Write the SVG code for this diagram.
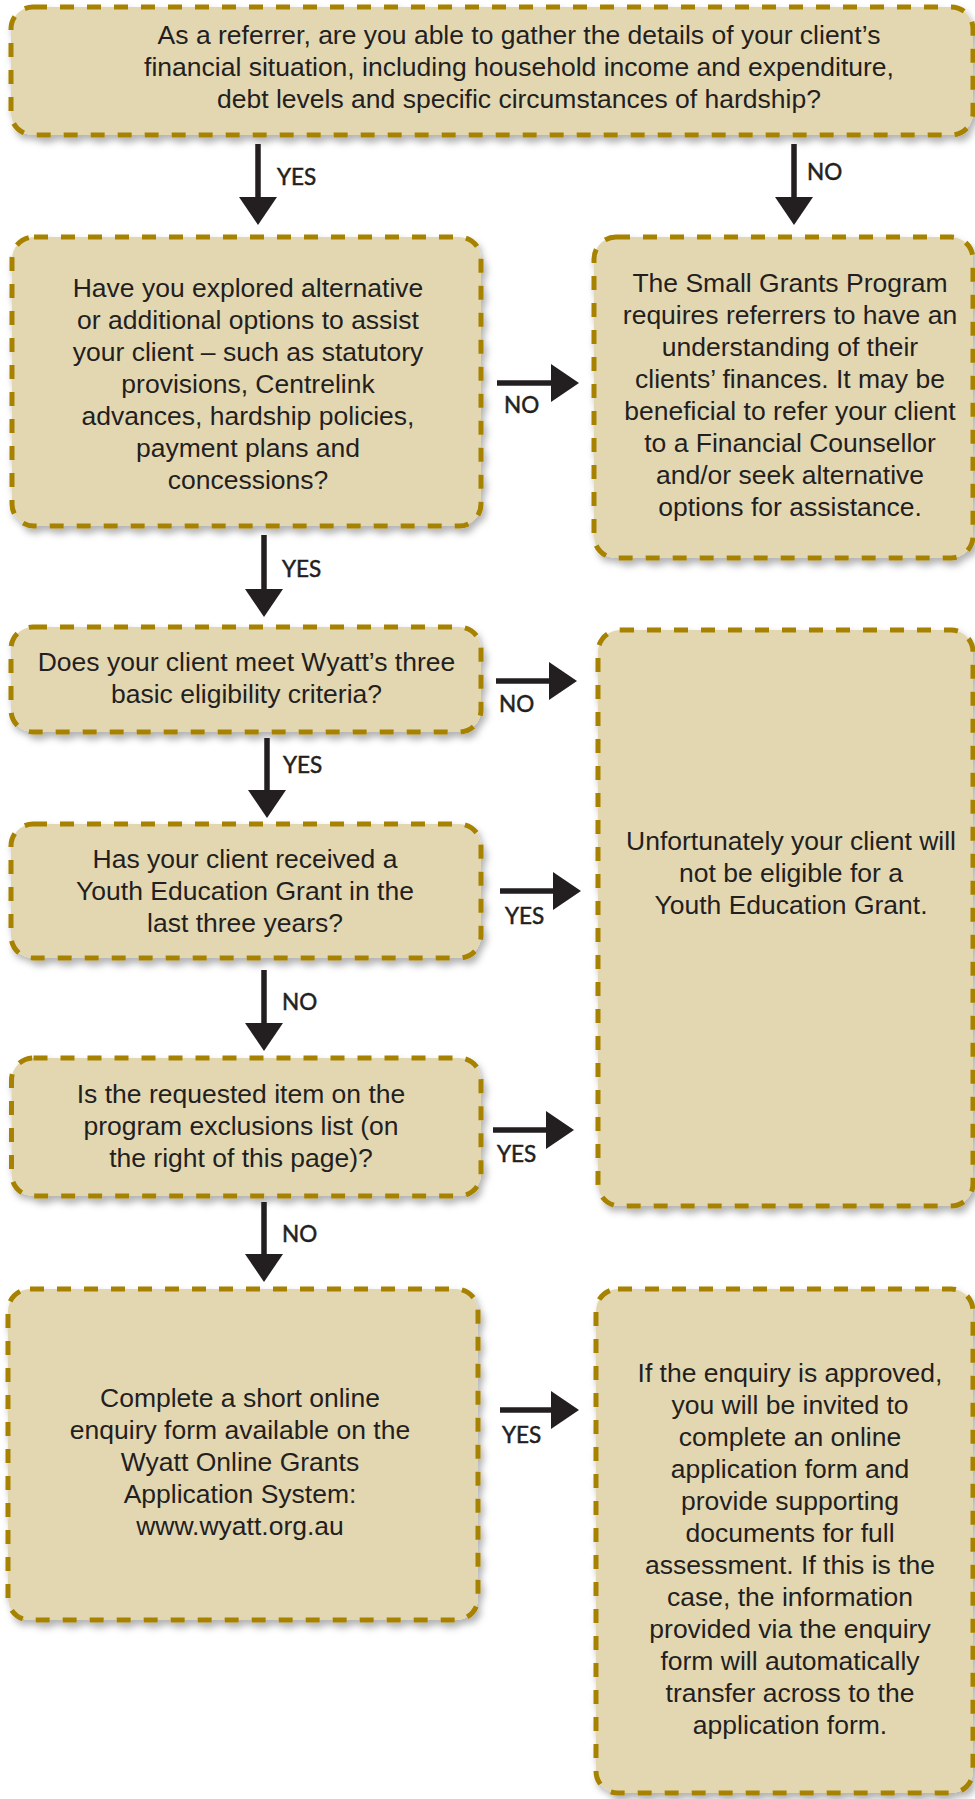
<svg xmlns="http://www.w3.org/2000/svg" width="975" height="1799" viewBox="0 0 975 1799">
<style>
.box{fill:#e3d7b2;stroke:#a68200;stroke-width:5;stroke-dasharray:14 13;filter:url(#sh)}
.t{font-family:"Liberation Sans",Arial,sans-serif;font-size:26.5px;fill:#231f20;text-anchor:middle}
.lbl{font-family:Lato,"DejaVu Sans",sans-serif;font-size:22.5px;fill:#231f20;stroke:#231f20;stroke-width:0.5}
.con{stroke:#231f20;stroke-width:5.5;fill:none;marker-end:url(#ah)}
</style>
<defs>
<filter id="sh" x="-10%" y="-10%" width="120%" height="125%">
<feDropShadow dx="3" dy="5" stdDeviation="3.5" flood-color="#000" flood-opacity="0.3"/>
</filter>
<marker id="ah" markerUnits="userSpaceOnUse" markerWidth="28" markerHeight="38" refX="0" refY="19" orient="auto">
<path d="M0,0 L28,19 L0,38 Z" fill="#231f20"/>
</marker>
</defs>
<rect width="975" height="1799" fill="#ffffff"/>

<g id="q1">
<rect class="box" x="11" y="7" width="962" height="128" rx="22"/>
<text class="t" x="519" y="44">As a referrer, are you able to gather the details of your client’s</text>
<text class="t" x="519" y="76">financial situation, including household income and expenditure,</text>
<text class="t" x="519" y="108">debt levels and specific circumstances of hardship?</text>
</g>

<g id="q2">
<rect class="box" x="12" y="237" width="469" height="289" rx="22"/>
<text class="t" x="248" y="297">Have you explored alternative</text>
<text class="t" x="248" y="329">or additional options to assist</text>
<text class="t" x="248" y="361">your client – such as statutory</text>
<text class="t" x="248" y="393">provisions, Centrelink</text>
<text class="t" x="248" y="425">advances, hardship policies,</text>
<text class="t" x="248" y="457">payment plans and</text>
<text class="t" x="248" y="489">concessions?</text>
</g>

<g id="r1">
<rect class="box" x="594" y="237" width="379" height="321" rx="22"/>
<text class="t" x="790" y="292">The Small Grants Program</text>
<text class="t" x="790" y="324">requires referrers to have an</text>
<text class="t" x="790" y="356">understanding of their</text>
<text class="t" x="790" y="388">clients’ finances. It may be</text>
<text class="t" x="790" y="420">beneficial to refer your client</text>
<text class="t" x="790" y="452">to a Financial Counsellor</text>
<text class="t" x="790" y="484">and/or seek alternative</text>
<text class="t" x="790" y="516">options for assistance.</text>
</g>

<g id="q3">
<rect class="box" x="11" y="627" width="470" height="105" rx="22"/>
<text class="t" x="246.5" y="671">Does your client meet Wyatt’s three</text>
<text class="t" x="246.5" y="703">basic eligibility criteria?</text>
</g>

<g id="r2">
<rect class="box" x="598" y="630" width="375" height="576" rx="22"/>
<text class="t" x="791" y="850">Unfortunately your client will</text>
<text class="t" x="791" y="882">not be eligible for a</text>
<text class="t" x="791" y="914">Youth Education Grant.</text>
</g>

<g id="q4">
<rect class="box" x="11" y="824" width="470" height="134" rx="22"/>
<text class="t" x="245" y="868">Has your client received a</text>
<text class="t" x="245" y="900">Youth Education Grant in the</text>
<text class="t" x="245" y="932">last three years?</text>
</g>

<g id="q5">
<rect class="box" x="11.5" y="1058" width="469.5" height="138" rx="22"/>
<text class="t" x="241" y="1103">Is the requested item on the</text>
<text class="t" x="241" y="1135">program exclusions list (on</text>
<text class="t" x="241" y="1167">the right of this page)?</text>
</g>

<g id="s1">
<rect class="box" x="8" y="1289" width="470" height="331" rx="22"/>
<text class="t" x="240" y="1407">Complete a short online</text>
<text class="t" x="240" y="1439">enquiry form available on the</text>
<text class="t" x="240" y="1471">Wyatt Online Grants</text>
<text class="t" x="240" y="1503">Application System:</text>
<text class="t" x="240" y="1535">www.wyatt.org.au</text>
</g>

<g id="s2">
<rect class="box" x="596" y="1289" width="377" height="504" rx="22"/>
<text class="t" x="790" y="1382">If the enquiry is approved,</text>
<text class="t" x="790" y="1414">you will be invited to</text>
<text class="t" x="790" y="1446">complete an online</text>
<text class="t" x="790" y="1478">application form and</text>
<text class="t" x="790" y="1510">provide supporting</text>
<text class="t" x="790" y="1542">documents for full</text>
<text class="t" x="790" y="1574">assessment. If this is the</text>
<text class="t" x="790" y="1606">case, the information</text>
<text class="t" x="790" y="1638">provided via the enquiry</text>
<text class="t" x="790" y="1670">form will automatically</text>
<text class="t" x="790" y="1702">transfer across to the</text>
<text class="t" x="790" y="1734">application form.</text>
</g>

<g id="connectors">
<path class="con" d="M258,144 V197"/>
<text class="lbl" x="277" y="185">YES</text>
<path class="con" d="M794,144 V197"/>
<text class="lbl" x="807" y="180">NO</text>
<path class="con" d="M497,383 H551"/>
<text class="lbl" x="504" y="413">NO</text>
<path class="con" d="M264,535 V589"/>
<text class="lbl" x="282" y="577">YES</text>
<path class="con" d="M496,681 H549"/>
<text class="lbl" x="499" y="712">NO</text>
<path class="con" d="M267,738 V790"/>
<text class="lbl" x="283" y="773">YES</text>
<path class="con" d="M500,891 H553"/>
<text class="lbl" x="505" y="924">YES</text>
<path class="con" d="M264,970 V1023"/>
<text class="lbl" x="282" y="1010">NO</text>
<path class="con" d="M493,1130 H546"/>
<text class="lbl" x="497" y="1162">YES</text>
<path class="con" d="M264,1202 V1254"/>
<text class="lbl" x="282" y="1242">NO</text>
<path class="con" d="M500,1410 H551"/>
<text class="lbl" x="502" y="1443">YES</text>
</g>
</svg>
